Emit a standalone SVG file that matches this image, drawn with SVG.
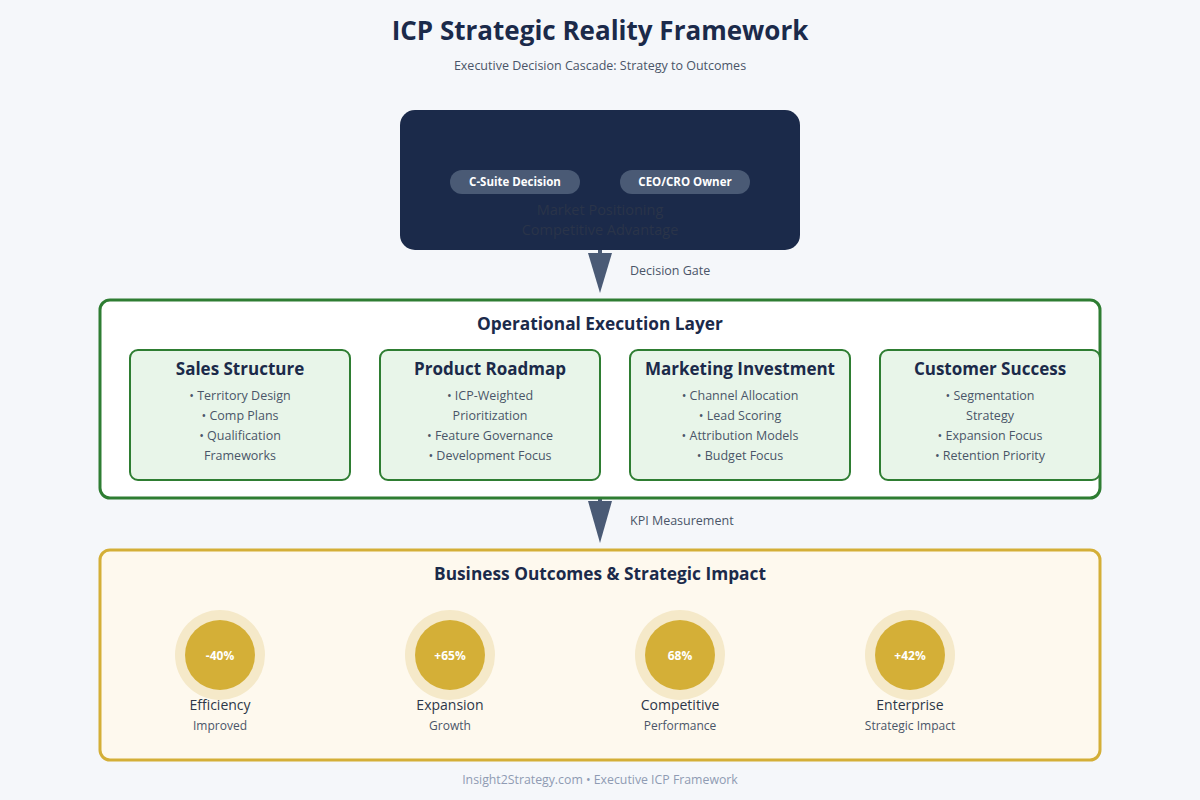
<svg xmlns="http://www.w3.org/2000/svg" width="1200" height="800" viewBox="0 0 1200 800">
<defs>
<style>
text{font-family:"Open Sans","Noto Sans","Liberation Sans",sans-serif;}
.title{font-size:26px;font-weight:700;fill:#1b2a4a;text-anchor:middle;}
.sub{font-size:12.5px;fill:#4a5568;text-anchor:middle;}
.pill{fill:#4a5a75;}
.pilltxt{font-size:11.5px;font-weight:700;fill:#ffffff;text-anchor:middle;}
.faint{font-size:14.5px;fill:#2a3449;text-anchor:middle;}
.arrow{fill:#4a5a75;}
.gate{font-size:12.5px;fill:#4a5568;}
.layer{font-size:17.3px;font-weight:700;fill:#1b2a4a;text-anchor:middle;}
.card{fill:#e8f5e9;stroke:#2e7d32;stroke-width:2;}
.cardtitle{font-size:17px;font-weight:700;fill:#1b2a4a;text-anchor:middle;}
.bullet{font-size:12.5px;fill:#4a5568;text-anchor:middle;}
.dash{stroke:#a0aec0;stroke-width:2;stroke-dasharray:5 5;fill:none;}
.outer{fill:#f5e9c9;}
.inner{fill:#d4af37;}
.val{font-size:12px;font-weight:700;fill:#ffffff;text-anchor:middle;}
.mlabel{font-size:14px;fill:#2d3748;text-anchor:middle;}
.msub{font-size:12px;fill:#4a5568;text-anchor:middle;}
.foot{font-size:12.3px;fill:#8f9bb3;text-anchor:middle;}
</style>
</defs>
<rect width="1200" height="800" fill="#f5f7fa"/>
<text class="title" x="600" y="40">ICP Strategic Reality Framework</text>
<text class="sub" x="600" y="70">Executive Decision Cascade: Strategy to Outcomes</text>

<g id="executive">
<rect x="400" y="110" width="400" height="140" rx="15" fill="#1b2a4a"/>
<rect class="pill" x="450" y="170" width="130" height="24" rx="12"/>
<text class="pilltxt" x="515" y="186">C-Suite Decision</text>
<rect class="pill" x="620" y="170" width="130" height="24" rx="12"/>
<text class="pilltxt" x="685" y="186">CEO/CRO Owner</text>
<text class="faint" x="600" y="215">Market Positioning</text>
<text class="faint" x="600" y="235">Competitive Advantage</text>
</g>

<g id="connectors">
<rect class="arrow" x="598" y="250" width="4" height="5"/>
<polygon class="arrow" points="588,253 612,253 600,293"/>
<text class="gate" x="630" y="275">Decision Gate</text>
<rect class="arrow" x="598" y="498" width="4" height="5"/>
<polygon class="arrow" points="588,501 612,501 600,543"/>
<text class="gate" x="630" y="525">KPI Measurement</text>
<line class="dash" x1="350" y1="414" x2="380" y2="414"/>
<line class="dash" x1="600" y1="414" x2="630" y2="414"/>
<line class="dash" x1="850" y1="414" x2="880" y2="414"/>
</g>

<g id="operational">
<rect x="100" y="300" width="1000" height="198" rx="10" fill="#ffffff" stroke="#2e7d32" stroke-width="3"/>
<text class="layer" x="600" y="330">Operational Execution Layer</text>
</g>

<g id="sales">
<rect class="card" x="130" y="350" width="220" height="130" rx="8"/>
<text class="cardtitle" x="240" y="375">Sales Structure</text>
<text class="bullet" x="240" y="400">• Territory Design</text>
<text class="bullet" x="240" y="420">• Comp Plans</text>
<text class="bullet" x="240" y="440">• Qualification</text>
<text class="bullet" x="240" y="460">Frameworks</text>
</g>
<g id="product">
<rect class="card" x="380" y="350" width="220" height="130" rx="8"/>
<text class="cardtitle" x="490" y="375">Product Roadmap</text>
<text class="bullet" x="490" y="400">• ICP-Weighted</text>
<text class="bullet" x="490" y="420">Prioritization</text>
<text class="bullet" x="490" y="440">• Feature Governance</text>
<text class="bullet" x="490" y="460">• Development Focus</text>
</g>
<g id="marketing">
<rect class="card" x="630" y="350" width="220" height="130" rx="8"/>
<text class="cardtitle" x="740" y="375">Marketing Investment</text>
<text class="bullet" x="740" y="400">• Channel Allocation</text>
<text class="bullet" x="740" y="420">• Lead Scoring</text>
<text class="bullet" x="740" y="440">• Attribution Models</text>
<text class="bullet" x="740" y="460">• Budget Focus</text>
</g>
<g id="success">
<rect class="card" x="880" y="350" width="220" height="130" rx="8"/>
<text class="cardtitle" x="990" y="375">Customer Success</text>
<text class="bullet" x="990" y="400">• Segmentation</text>
<text class="bullet" x="990" y="420">Strategy</text>
<text class="bullet" x="990" y="440">• Expansion Focus</text>
<text class="bullet" x="990" y="460">• Retention Priority</text>
</g>

<g id="outcomes">
<rect x="100" y="550" width="1000" height="210" rx="10" fill="#fef9ee" stroke="#d4af37" stroke-width="3"/>
<text class="layer" x="600" y="580">Business Outcomes &amp; Strategic Impact</text>
</g>
<g id="efficiency">
<circle class="outer" cx="220" cy="655" r="45"/>
<circle class="inner" cx="220" cy="655" r="35"/>
<text class="val" x="220" y="660">-40%</text>
<text class="mlabel" x="220" y="710">Efficiency</text>
<text class="msub" x="220" y="730">Improved</text>
</g>
<g id="expansion">
<circle class="outer" cx="450" cy="655" r="45"/>
<circle class="inner" cx="450" cy="655" r="35"/>
<text class="val" x="450" y="660">+65%</text>
<text class="mlabel" x="450" y="710">Expansion</text>
<text class="msub" x="450" y="730">Growth</text>
</g>
<g id="competitive">
<circle class="outer" cx="680" cy="655" r="45"/>
<circle class="inner" cx="680" cy="655" r="35"/>
<text class="val" x="680" y="660">68%</text>
<text class="mlabel" x="680" y="710">Competitive</text>
<text class="msub" x="680" y="730">Performance</text>
</g>
<g id="enterprise">
<circle class="outer" cx="910" cy="655" r="45"/>
<circle class="inner" cx="910" cy="655" r="35"/>
<text class="val" x="910" y="660">+42%</text>
<text class="mlabel" x="910" y="710">Enterprise</text>
<text class="msub" x="910" y="730">Strategic Impact</text>
</g>

<text class="foot" x="600" y="784">Insight2Strategy.com • Executive ICP Framework</text>
</svg>
